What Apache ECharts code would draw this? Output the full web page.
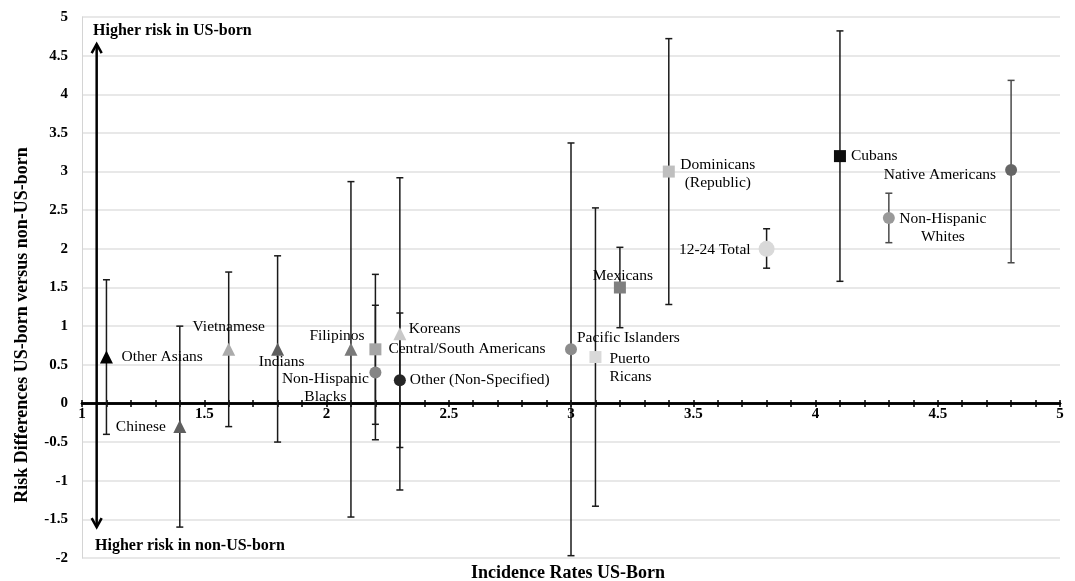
<!DOCTYPE html>
<html><head><meta charset="utf-8">
<script src="https://cdn.jsdelivr.net/npm/echarts@6/dist/echarts.min.js"></script>
<style>html,body{margin:0;padding:0;background:#fff}#c{width:1075px;height:581px}</style>
</head><body><div id="c"></div>
<script>
// ---- data ----
const groups = ['Other Asians','Chinese','Vietnamese','Indians','Filipinos','Central/South Americans','Non-Hispanic\nBlacks','Koreans','Other (Non-Specified)','Pacific Islanders','Puerto\nRicans','Mexicans','Dominicans\n(Republic)','12-24 Total','Cubans','Non-Hispanic\nWhites','Native Americans'];
const incidenceUSBorn = [1.1,1.4,1.6,1.8,2.1,2.2,2.2,2.3,2.3,3.0,3.1,3.2,3.4,3.8,4.1,4.3,4.8];
const riskDifference = [0.6,-0.3,0.7,0.7,0.7,0.7,0.4,0.9,0.3,0.7,0.6,1.5,3.0,2.0,3.2,2.4,3.02];
const ciLower = [-0.4,-1.6,-0.3,-0.5,-1.47,-0.27,-0.47,-1.12,-0.57,-1.97,-1.33,0.98,1.28,1.75,1.58,2.08,1.82];
const ciUpper = [1.6,1.0,1.7,1.91,2.87,1.67,1.27,2.92,1.17,3.37,2.53,2.02,4.72,2.26,4.82,2.72,4.18];
const xTickLabels = [1,1.5,2,2.5,3,3.5,4,4.5,5];
const xRange = [1, 5, 0.5];
const yRange = [-2, 5, 0.5];
const arrowX = 1.06, arrowFrom = -1.6, arrowTo = 4.65;

// ---- styles ----
const symbols = ['triangle','triangle','triangle','triangle','triangle','rect','circle','triangle','circle','circle','rect','rect','rect','circle','rect','circle','circle'];
const colors = ['#000000','#5f5f5f','#ababab','#5f5f5f','#7a7a7a','#a6a6a6','#858585','#c8c8c8','#262626','#8c8c8c','#d9d9d9','#7f7f7f','#bfbfbf','#d9d9d9','#0d0d0d','#999999','#666666'];
const sizes = [13,13,13,13,13,12,12,13,12,12,12,12,12,16,12,12,12];
const barColors = ['#1a1a1a','#1a1a1a','#1a1a1a','#1a1a1a','#1a1a1a','#1a1a1a','#1a1a1a','#1a1a1a','#1a1a1a','#1a1a1a','#1a1a1a','#1a1a1a','#1a1a1a','#1a1a1a','#1a1a1a','#4a4a4a','#4a4a4a'];
// [align, dx, dy] relative to marker centre
const labelPos = [['left',15,0],['right',-14,0],['center',0,-22],['center',4,13],['center',-14,-13],['left',13,0],['center',-50,15],['left',9,-5],['left',10,0],['left',6,-11],['left',14,11],['center',3,-12],['center',49,2],['right',-16,1],['left',11,0],['center',54,10],['right',-15,5]];

const serif = '"Liberation Serif","Times New Roman",serif';
const chart = echarts.init(document.getElementById('c'), null, {renderer:'canvas'});

const scatterData = groups.map((g,i)=>({
  name: g,
  value: [incidenceUSBorn[i], riskDifference[i]],
  symbol: symbols[i],
  symbolSize: sizes[i],
  itemStyle: {color: colors[i], opacity:1},
  label: {show:true, position:'inside', align: labelPos[i][0], verticalAlign:'middle', offset:[labelPos[i][1], labelPos[i][2]]}
}));
const barData = groups.map((g,i)=>[incidenceUSBorn[i], ciLower[i], ciUpper[i]]);

const tickAxisCommon = {
  type:'value', min:xRange[0], max:xRange[1], interval:xRange[2],
  splitLine:{show:false},
  axisLabel:{show:false},
  axisTick:{show:true, length:3.5, lineStyle:{color:'#000', width:1.5}},
  minorTick:{show:true, splitNumber:5, length:3.5, lineStyle:{color:'#000', width:1.5}}
};

chart.setOption({
  animation:false,
  backgroundColor:'#fff',
  grid:{left:82, right:15, top:17, bottom:23},
  xAxis:[
    Object.assign({}, tickAxisCommon, {
      position:'bottom',
      axisLine:{show:true, onZero:true, onZeroAxisIndex:0, lineStyle:{color:'#000', width:2.5}}
    }),
    Object.assign({}, tickAxisCommon, {
      position:'top',
      axisLine:{show:true, onZero:true, onZeroAxisIndex:0, lineStyle:{color:'#000', width:2.5}}
    })
  ],
  yAxis:{
    type:'value', min:yRange[0], max:yRange[1], interval:yRange[2],
    axisLine:{show:true, onZero:false, lineStyle:{color:'#d4d4d4', width:1}},
    axisTick:{show:false},
    axisLabel:{color:'#000', fontFamily:serif, fontWeight:'bold', fontSize:15, margin:14},
    splitLine:{show:true, lineStyle:{color:'#e0e0e0', width:1.5}}
  },
  graphic:[
    {type:'text', left:93, top:23, style:{text:'Higher risk in US-born', font:'bold 16px '+serif, fill:'#000'}},
    {type:'text', left:95, top:538, style:{text:'Higher risk in non-US-born', font:'bold 16px '+serif, fill:'#000'}},
    {type:'text', x:22, y:325, rotation:Math.PI/2, style:{text:'Risk Differences US-born versus non-US-born', font:'bold 18px '+serif, fill:'#000', align:'center', verticalAlign:'middle'}},
    {type:'text', x:568, y:573, style:{text:'Incidence Rates US-Born', font:'bold 18px '+serif, fill:'#000', align:'center', verticalAlign:'middle'}}
  ],
  series:[
    {
      type:'custom', name:'CI', z:2, silent:true,
      data: barData,
      renderItem:function(params, api){
        const x = api.value(0);
        const lo = api.coord([x, api.value(1)]);
        const hi = api.coord([x, api.value(2)]);
        const c = barColors[params.dataIndex];
        const st = {stroke:c, lineWidth:1.5};
        const w = 3.5;
        return {type:'group', children:[
          {type:'line', shape:{x1:lo[0], y1:lo[1], x2:hi[0], y2:hi[1]}, style:st},
          {type:'line', shape:{x1:lo[0]-w, y1:lo[1], x2:lo[0]+w, y2:lo[1]}, style:st},
          {type:'line', shape:{x1:hi[0]-w, y1:hi[1], x2:hi[0]+w, y2:hi[1]}, style:st}
        ]};
      }
    },
    {
      type:'custom', name:'arrow', z:2, silent:true,
      data:[[arrowX, arrowFrom, arrowTo]],
      renderItem:function(params, api){
        const x = api.value(0);
        const b = api.coord([x, api.value(1)]);
        const t = api.coord([x, api.value(2)]);
        const st = {stroke:'#000', lineWidth:2.5, fill:null};
        return {type:'group', children:[
          {type:'line', shape:{x1:b[0], y1:b[1], x2:t[0], y2:t[1]}, style:st},
          {type:'polyline', shape:{points:[[t[0]-5,t[1]+9],[t[0],t[1]],[t[0]+5,t[1]+9]]}, style:st},
          {type:'polyline', shape:{points:[[b[0]-5,b[1]-9],[b[0],b[1]],[b[0]+5,b[1]-9]]}, style:st}
        ]};
      }
    },
    {
      type:'custom', name:'xTickLabels', z:4, silent:true, clip:false,
      data: xTickLabels.map(v=>[v, 0]),
      renderItem:function(params, api){
        const p = api.coord([api.value(0), api.value(1)]);
        return {type:'text', x:p[0], y:p[1]+11, style:{text:String(api.value(0)), font:'bold 15px '+serif, fill:'#000', align:'center', verticalAlign:'middle'}};
      }
    },
    {
      type:'scatter', name:'groups', z:3,
      data: scatterData,
      label:{show:true, formatter:'{b}', color:'#000', opacity:1, fontFamily:serif, fontSize:15.5, lineHeight:18, textBorderWidth:0},
      emphasis:{disabled:true}
    }
  ]
});
</script></body></html>
